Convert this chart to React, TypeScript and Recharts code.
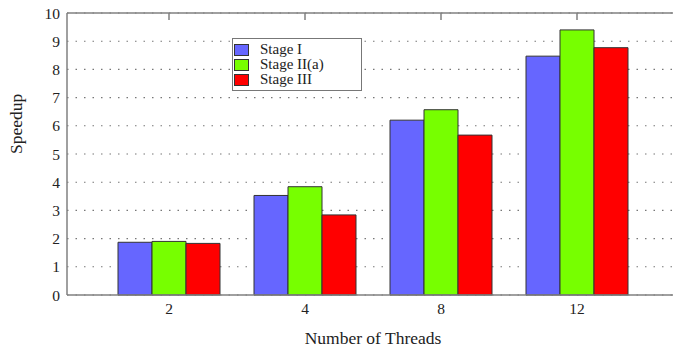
import { BarChart, Bar, XAxis, YAxis, CartesianGrid, Legend } from "recharts";

const threads = ["2", "4", "8", "12"];
const stageI = [1.87, 3.53, 6.2, 8.47];
const stageIIa = [1.9, 3.84, 6.57, 9.4];
const stageIII = [1.83, 2.84, 5.67, 8.77];
const yTicks = [0, 1, 2, 3, 4, 5, 6, 7, 8, 9, 10];

const series = [
  { key: "stageI", name: "Stage I", color: "#6666ff" },
  { key: "stageIIa", name: "Stage II(a)", color: "#77ff00" },
  { key: "stageIII", name: "Stage III", color: "#ff0000" },
];

const data = threads.map((t, i) => ({
  threads: t,
  stageI: stageI[i],
  stageIIa: stageIIa[i],
  stageIII: stageIII[i],
}));

const font = "Liberation Serif, serif";
const axisColor = "#808080";

function LegendBox() {
  return (
    <div
      style={{
        border: "1px solid #777",
        background: "#fff",
        padding: "3px 8px 3px 1px",
        fontFamily: font,
        fontSize: 15,
        color: "#222",
        lineHeight: "15px",
      }}
    >
      {series.map((s) => (
        <div key={s.key} style={{ display: "flex", alignItems: "center", height: 15 }}>
          <span
            style={{
              display: "inline-block",
              width: 13,
              height: 10,
              background: s.color,
              border: "1px solid #333",
              marginRight: 11,
            }}
          />
          {s.name}
        </div>
      ))}
    </div>
  );
}

export default function App() {
  return (
    <div
      style={{
        position: "absolute",
        left: 0,
        top: 0,
        width: 673,
        height: 349,
        overflow: "hidden",
        background: "#fff",
        fontFamily: font,
      }}
    >
      <BarChart
        width={690}
        height={349}
        data={data}
        margin={{ top: 13, right: 10, left: 0, bottom: 0 }}
        barCategoryGap={17}
        barGap={0}
        style={{ fontFamily: font }}
      >
        <CartesianGrid vertical={false} stroke="#777" strokeWidth={1.1} strokeDasharray="1.5 7" />
        <XAxis
          dataKey="threads"
          height={54}
          padding={{ left: 34, right: 34 }}
          axisLine={{ stroke: axisColor, strokeWidth: 1.5 }}
          tickLine={false}
          tickMargin={2}
          tick={{ fill: "#222", fontSize: 15.5, fontFamily: font }}
          label={{ value: "Number of Threads", position: "insideBottom", offset: 5, fill: "#222", fontSize: 17.5, fontFamily: font }}
        />
        <XAxis
          xAxisId="top"
          dataKey="threads"
          orientation="top"
          height={1}
          mirror
          padding={{ left: 34, right: 34 }}
          axisLine={{ stroke: axisColor, strokeWidth: 1.5 }}
          tickLine={{ stroke: axisColor, strokeWidth: 1.5 }}
          tickSize={7}
          tick={() => <g />}
        />
        <YAxis
          width={67}
          domain={[0, 10]}
          ticks={yTicks}
          interval={0}
          axisLine={{ stroke: axisColor, strokeWidth: 1.5 }}
          tickLine={false}
          tickSize={5}
          tickMargin={2}
          tick={{ fill: "#222", fontSize: 15.5, fontFamily: font }}
          label={{ value: "Speedup", angle: -90, position: "insideLeft", offset: 16, fill: "#222", fontSize: 17.5, fontFamily: font }}
        />
        <YAxis
          yAxisId="right"
          orientation="right"
          width={1}
          domain={[0, 10]}
          axisLine={{ stroke: axisColor, strokeWidth: 1.5 }}
          tickLine={false}
          tick={false}
        />
        <Legend
          layout="vertical"
          align="center"
          verticalAlign="middle"
          wrapperStyle={{ left: 232, top: 38, width: 130 }}
          content={() => <LegendBox />}
        />
        {series.map((s) => (
          <Bar
            key={s.key}
            dataKey={s.key}
            name={s.name}
            fill={s.color}
            stroke="#333"
            strokeWidth={1}
            isAnimationActive={false}
          />
        ))}
      </BarChart>
    </div>
  );
}
